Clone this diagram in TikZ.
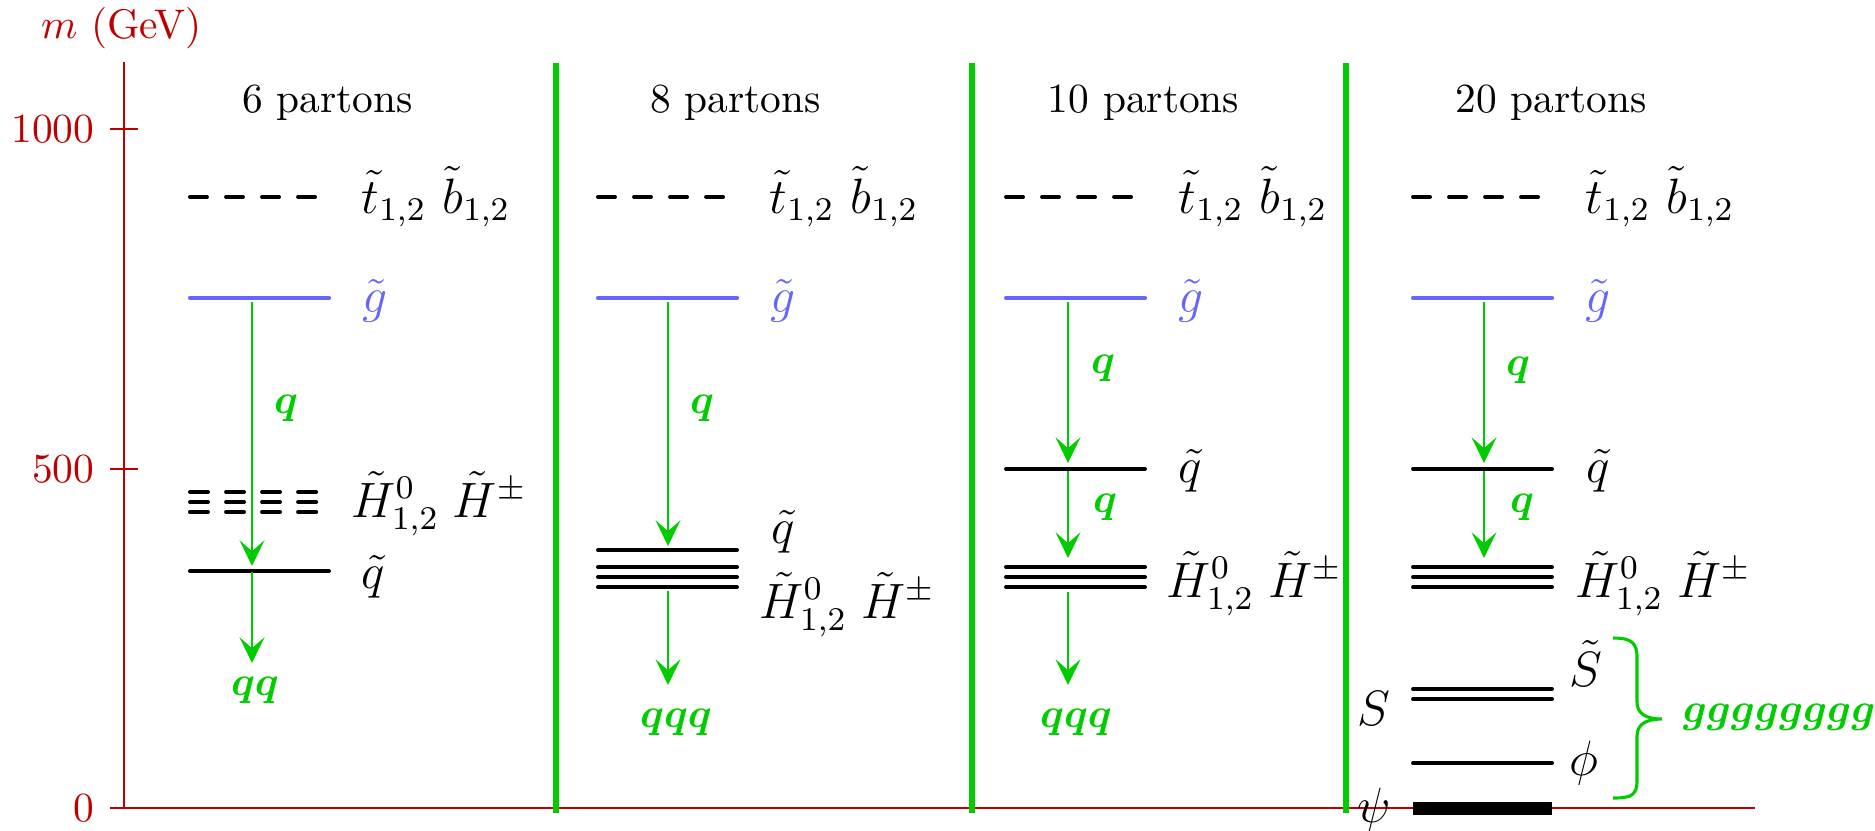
\documentclass[tikz,border=0pt]{standalone}
\usepackage{amsmath}
\usetikzlibrary{arrows.meta}
\definecolor{axred}{RGB}{191,0,0}
\definecolor{sepgreen}{RGB}{0,204,0}
\definecolor{glblue}{RGB}{102,102,255}
\begin{document}
\begin{tikzpicture}[x=0.2415pt,y=-0.2415pt,
  lvl/.style={line width=0.95pt,line cap=round},
  stoplvl/.style={lvl,dash pattern=on 4.1pt off 4.6pt},
  higlvl/.style={lvl,dash pattern=on 4.35pt off 4.35pt},
  glulvl/.style={line width=1pt,line cap=round,glblue},
  sepline/.style={sepgreen,line width=1.4pt},
  axline/.style={axred,line width=0.45pt},
  arr/.style={sepgreen,line width=0.5pt,-{Stealth[length=6.2pt,width=6pt,inset=2.6pt]}},
  qlab/.style={text=sepgreen,inner sep=0},
  lab/.style={anchor=base west,inner sep=0,font=\large},
  ticklab/.style={text=axred,anchor=east,inner sep=0},
  title/.style={anchor=base,inner sep=0}]
\useasboundingbox (0,0) rectangle (1875,830);

% axes
\coordinate (ax0) at (124,808);
\coordinate (axtop) at (124,62);
\coordinate (axleft) at (110,808);
\coordinate (axright) at (1755,808);
\draw[axline] (ax0) -- (axtop);
\draw[axline] (axleft) -- (axright);
\draw[axline] (110,129) -- (138,129);
\draw[axline] (110,469) -- (138,469);
\node[ticklab] (l1000) at (95,129) {1000};
\node[ticklab] (l500) at (95,469) {500};
\node[ticklab] (l0) at (95,808) {0};
\node[text=axred,anchor=base,inner sep=0] (mlab) at (121.5,38) {$m$ (GeV)};

% separators
\draw[sepline] (556,63) -- (556,813);
\draw[sepline] (972,63) -- (972,813);
\draw[sepline] (1346,63) -- (1346,813);

% titles
\node[title] (t1) at (327.5,112) {6 partons};
\node[title] (t2) at (735.5,112) {8 partons};
\node[title] (t3) at (1143.5,112) {10 partons};
\node[title] (t4) at (1551,112) {20 partons};

% ===== panel 1 =====
\draw[stoplvl] (190,197) -- (329,197);
\draw[glulvl] (190,298) -- (329,298);
\draw[higlvl] (190,492) -- (329,492);
\draw[higlvl] (190,502) -- (329,502);
\draw[higlvl] (190,512) -- (329,512);
\draw[lvl] (190,571) -- (329,571);
\node[lab] (p1t) at (361,213) {$\tilde t_{1,2}\ \tilde b_{1,2}$};
\node[lab,text=glblue] (p1g) at (362,312) {$\tilde g$};
\node[lab] (p1h) at (351,517) {$\tilde H^0_{1,2}\;\tilde H^{\pm}$};
\node[lab] (p1q) at (361,588) {$\tilde q$};
\coordinate (p1a) at (252,302);
\coordinate (p1b) at (252,566);
\coordinate (p1c) at (252,572);
\coordinate (p1d) at (252,663);
\draw[arr] (p1a) -- (p1b);
\draw[arr] (p1c) -- (p1d);
\node[qlab] (p1q1) at (286,408) {$\boldsymbol{q}$};
\node[qlab] (p1qq) at (255,690) {$\boldsymbol{qq}$};

% ===== panel 2 =====
\draw[stoplvl] (598,197) -- (737,197);
\draw[glulvl] (598,298) -- (737,298);
\draw[lvl] (598,550) -- (737,550);
\draw[lvl] (598,567) -- (737,567);
\draw[lvl] (598,577) -- (737,577);
\draw[lvl] (598,587) -- (737,587);
\node[lab] (p2t) at (769,213) {$\tilde t_{1,2}\ \tilde b_{1,2}$};
\node[lab,text=glblue] (p2g) at (770,312) {$\tilde g$};
\node[lab] (p2q) at (771,543) {$\tilde q$};
\node[lab] (p2h) at (759,618) {$\tilde H^0_{1,2}\;\tilde H^{\pm}$};
\coordinate (p2a) at (668,302);
\coordinate (p2b) at (668,546);
\coordinate (p2c) at (668,591);
\coordinate (p2d) at (668,685);
\draw[arr] (p2a) -- (p2b);
\draw[arr] (p2c) -- (p2d);
\node[qlab] (p2q1) at (702,408) {$\boldsymbol{q}$};
\node[qlab] (p2qq) at (676,722) {$\boldsymbol{qqq}$};

% ===== panel 3 =====
\draw[stoplvl] (1006,197) -- (1145,197);
\draw[glulvl] (1006,298) -- (1145,298);
\draw[lvl] (1006,469) -- (1145,469);
\draw[lvl] (1006,567) -- (1145,567);
\draw[lvl] (1006,577) -- (1145,577);
\draw[lvl] (1006,587) -- (1145,587);
\node[lab] (p3t) at (1178,213) {$\tilde t_{1,2}\ \tilde b_{1,2}$};
\node[lab,text=glblue] (p3g) at (1178,312) {$\tilde g$};
\node[lab] (p3q) at (1178,482) {$\tilde q$};
\node[lab] (p3h) at (1166,597) {$\tilde H^0_{1,2}\;\tilde H^{\pm}$};
\coordinate (p3a) at (1068,302);
\coordinate (p3b) at (1068,463);
\coordinate (p3c) at (1068,471);
\coordinate (p3d) at (1068,558);
\coordinate (p3e) at (1068,592);
\coordinate (p3f) at (1068,685);
\draw[arr] (p3a) -- (p3b);
\draw[arr] (p3c) -- (p3d);
\draw[arr] (p3e) -- (p3f);
\node[qlab] (p3q1) at (1103,368) {$\boldsymbol{q}$};
\node[qlab] (p3q2) at (1105,507) {$\boldsymbol{q}$};
\node[qlab] (p3qq) at (1076,722) {$\boldsymbol{qqq}$};

% ===== panel 4 =====
\draw[stoplvl] (1413,197) -- (1552,197);
\draw[glulvl] (1413,298) -- (1552,298);
\draw[lvl] (1413,469) -- (1552,469);
\draw[lvl] (1413,567) -- (1552,567);
\draw[lvl] (1413,577) -- (1552,577);
\draw[lvl] (1413,587) -- (1552,587);
\draw[lvl] (1413,689) -- (1552,689);
\draw[lvl] (1413,699) -- (1552,699);
\draw[lvl] (1413,763) -- (1552,763);
\draw[line width=3.1pt] (1413,808.5) -- (1552,808.5);
\node[lab] (p4t) at (1585,213) {$\tilde t_{1,2}\ \tilde b_{1,2}$};
\node[lab,text=glblue] (p4g) at (1585,312) {$\tilde g$};
\node[lab] (p4q) at (1586,482) {$\tilde q$};
\node[lab] (p4h) at (1575,597) {$\tilde H^0_{1,2}\;\tilde H^{\pm}$};
\node[lab] (p4st) at (1569,686) {$\tilde S$};
\node[lab] (p4phi) at (1569,775) {$\phi$};
\node[anchor=base,inner sep=0,font=\large] (p4s) at (1374,725) {$S$};
\node[anchor=base,inner sep=0,font=\large] (p4psi) at (1374,822) {$\psi$};
\coordinate (p4a) at (1484,302);
\coordinate (p4b) at (1484,463);
\coordinate (p4c) at (1484,471);
\coordinate (p4d) at (1484,558);
\draw[arr] (p4a) -- (p4b);
\draw[arr] (p4c) -- (p4d);
\node[qlab] (p4q1) at (1518,370) {$\boldsymbol{q}$};
\node[qlab] (p4q2) at (1522,507) {$\boldsymbol{q}$};

% brace
\draw[sepgreen,line width=0.75pt]
  (1613,638) .. controls (1632,638) and (1637,643) .. (1637,658)
  -- (1637,702) .. controls (1637,713) and (1645,719) .. (1662,719)
  .. controls (1645,719) and (1637,725) .. (1637,736)
  -- (1637,780) .. controls (1637,795) and (1632,798) .. (1613,798);
\node[qlab,anchor=west] (glu8) at (1682,717) {$\boldsymbol{gggggggg}$};
\end{tikzpicture}
\end{document}
